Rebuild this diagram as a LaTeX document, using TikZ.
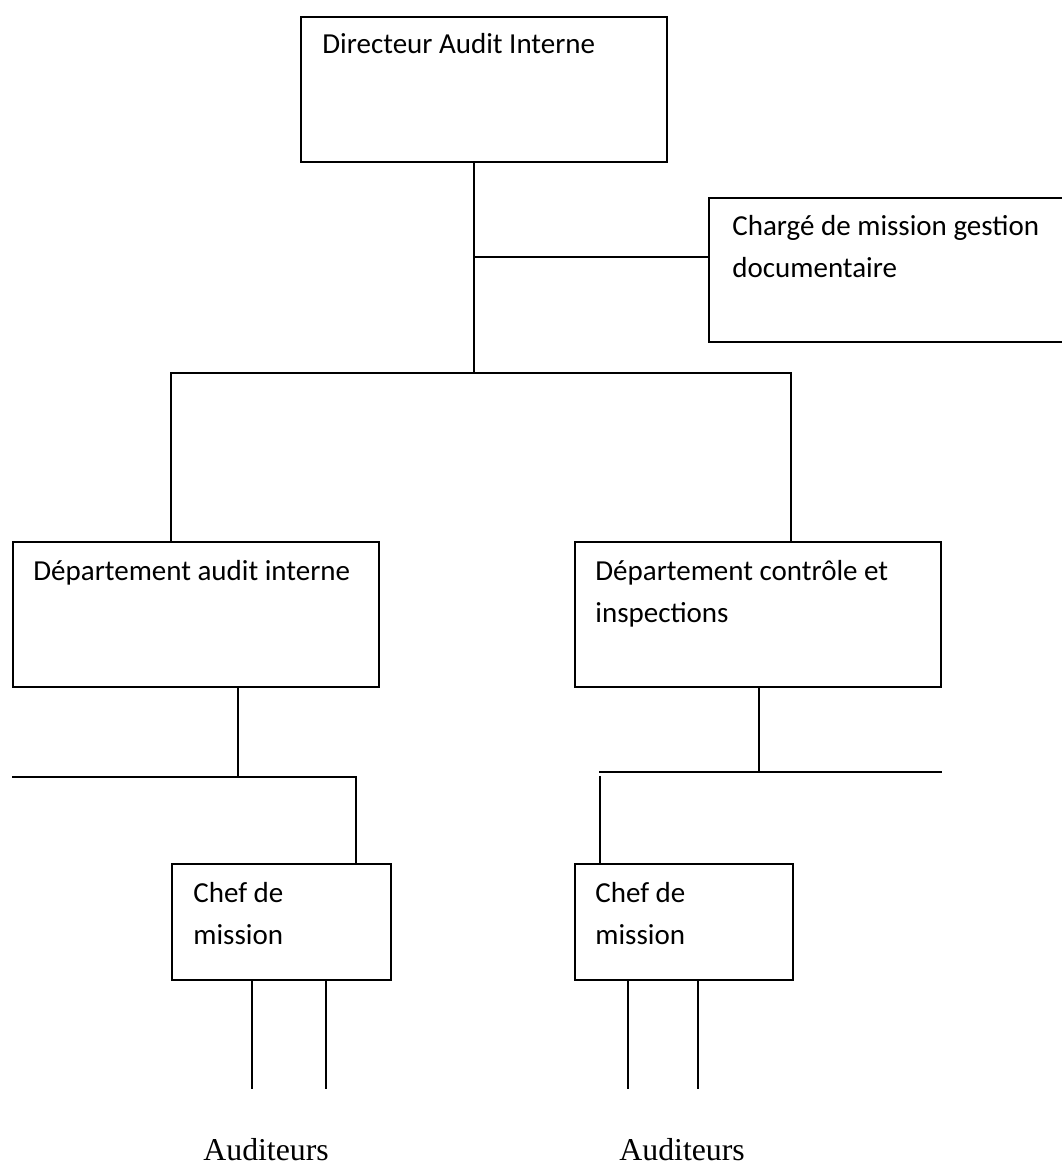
\documentclass[tikz,border=0pt]{standalone}
\usepackage{fontspec}
\setmainfont{Carlito}
\newfontfamily\auditfont{Liberation Serif}
\usetikzlibrary{calc}

\tikzset{
  orgbox/.style={draw=black,line width=1pt,rectangle,inner sep=0pt,anchor=north west},
  boxtext/.style={anchor=base west,align=left,inner sep=0pt,font=\fontsize{14.5}{21}\selectfont},
  link/.style={draw=black,line width=0.9pt},
  audtext/.style={anchor=base west,inner sep=0pt,font=\auditfont\fontsize{15.9}{19}\selectfont}
}

\begin{document}
\begin{tikzpicture}[x=0.5pt,y=-0.5pt]
\useasboundingbox (0,0) rectangle (1062,1164);
% boxes
\node[orgbox,minimum width=183pt,minimum height=72.5pt] (dir) at (300,16) {};
\node[orgbox,minimum width=180pt,minimum height=72pt] (cm) at (708,197) {};
\node[orgbox,minimum width=183pt,minimum height=72.5pt] (da) at (12,541) {};
\node[orgbox,minimum width=183pt,minimum height=72.5pt] (dc) at (574,541) {};
\node[orgbox,minimum width=109.5pt,minimum height=58pt] (chl) at (171,863) {};
\node[orgbox,minimum width=109pt,minimum height=58pt] (chr) at (574,863) {};
% texts (base west = last line)
\node[boxtext] (dirtext) at ($(dir.north west)+(22,37)$) {Directeur Audit Interne};
\node[boxtext] (cmtext) at ($(cm.north west)+(24,80)$) {Chargé de mission gestion\\documentaire};
\node[boxtext] (datext) at ($(da.north west)+(21,39)$) {Département audit interne};
\node[boxtext] (dctext) at ($(dc.north west)+(21,81)$) {Département contrôle et\\inspections};
\node[boxtext] (chltext) at ($(chl.north west)+(22,81)$) {Chef de\\mission};
\node[boxtext] (chrtext) at ($(chr.north west)+(21,81)$) {Chef de\\mission};
\node[audtext] (audl) at (203,1160) {Auditeurs};
\node[audtext] (audr) at (619,1160) {Auditeurs};
% upper links
\coordinate (mid) at (474,373);
\coordinate (tap) at (474,257);
\draw[link] (dir.south -| mid) -- (mid);
\draw[link] (tap) -- (tap -| cm.west);
\draw[link] ($(da.north west)+(159,0)$) |- (mid) -| ($(dc.north west)+(217,0)$);
% left branch
\coordinate (lbar) at (12,777);
\draw[link] ($(da.south west)+(226,0)$) -- (lbar -| {$(da.south west)+(226,0)$});
\draw[link] (lbar) -| ($(chl.north west)+(185,0)$);
% right branch
\coordinate (rbar) at (599,772);
\draw[link] ($(dc.south west)+(185,0)$) -- (rbar -| {$(dc.south west)+(185,0)$});
\draw[link] (rbar) -- (rbar -| dc.east);
\draw[link] ($(chr.north west)+(26,0)$) -- ++(0,-87);
% auditeurs
\draw[link] ($(chl.south west)+(81,0)$) -- ++(0,108);
\draw[link] ($(chl.south west)+(155,0)$) -- ++(0,108);
\draw[link] ($(chr.south west)+(54,0)$) -- ++(0,108);
\draw[link] ($(chr.south west)+(124,0)$) -- ++(0,108);
\end{tikzpicture}
\end{document}
